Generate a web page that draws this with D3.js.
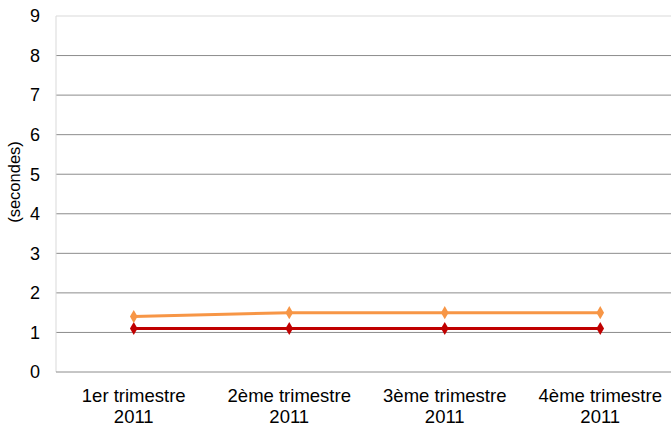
<!DOCTYPE html>
<html>
<head>
<meta charset="utf-8">
<script src="https://d3js.org/d3.v7.min.js"></script>
<style>
  body { margin: 0; background: #fff; }
  svg text { font-family: "Liberation Sans", Arial, sans-serif; fill: #000; }
  .line { fill: none; stroke-width: 3px; }
</style>
</head>
<body>
<script>
  // données
  var categories = ["1er trimestre|2011", "2ème trimestre|2011", "3ème trimestre|2011", "4ème trimestre|2011"];
  var orangeValues = [1.4, 1.5, 1.5, 1.5];
  var redValues = [1.1, 1.1, 1.1, 1.1];
  var yTicks = [0, 1, 2, 3, 4, 5, 6, 7, 8, 9];
  var yTitle = "(secondes)";

  var width = 671, height = 429;
  var margin = {top: 16, right: -7, bottom: 57, left: 56};

  var svg = d3.select("body").append("svg")
      .attr("width", width)
      .attr("height", height);

  var x = d3.scaleBand().domain(categories).range([margin.left, width - margin.right]);
  var y = d3.scaleLinear().domain([0, 9]).range([height - margin.bottom, margin.top]);

  // grille
  svg.append("g").selectAll("line")
     .data(yTicks.filter(function(d){ return d > 0 && d < 9; }))
     .enter().append("line")
     .attr("x1", margin.left).attr("x2", width)
     .attr("y1", function(d){ return y(d); }).attr("y2", function(d){ return y(d); })
     .attr("stroke", "#8c8c8c").attr("stroke-width", 1);

  // bord haut et gauche
  svg.append("line").attr("x1", margin.left).attr("x2", width)
     .attr("y1", y(9)).attr("y2", y(9)).attr("stroke", "#d9d9d9");
  svg.append("line").attr("x1", margin.left).attr("x2", margin.left)
     .attr("y1", y(9)).attr("y2", y(0)).attr("stroke", "#d9d9d9");

  // axe x
  svg.append("line").attr("x1", margin.left).attr("x2", width)
     .attr("y1", y(0)).attr("y2", y(0)).attr("stroke", "#8c8c8c");

  // étiquettes y
  svg.append("g").selectAll("text")
     .data(yTicks).enter().append("text")
     .attr("x", 40).attr("y", function(d){ return y(d); })
     .attr("dy", "0.35em")
     .attr("text-anchor", "end")
     .style("font-size", "18px")
     .text(function(d){ return d; });

  // étiquettes x
  var xl = svg.append("g").selectAll("text")
     .data(categories).enter().append("text")
     .attr("text-anchor", "middle")
     .style("font-size", "18.5px");
  xl.append("tspan")
    .attr("x", function(d){ return x(d) + x.bandwidth() / 2; })
    .attr("y", 402)
    .text(function(d){ return d.split("|")[0]; });
  xl.append("tspan")
    .attr("x", function(d){ return x(d) + x.bandwidth() / 2; })
    .attr("y", 423)
    .text(function(d){ return d.split("|")[1]; });

  // titre y
  svg.append("text")
     .attr("transform", "translate(20," + 182 + ") rotate(-90)")
     .attr("text-anchor", "middle")
     .style("font-size", "16.5px")
     .text(yTitle);

  var series = [
    {values: redValues, color: "#c00000"},
    {values: orangeValues, color: "#f79646"}
  ];

  var line = d3.line()
      .x(function(d, i){ return x(categories[i]) + x.bandwidth() / 2; })
      .y(function(d){ return y(d); });

  var diamond = d3.symbol().type(d3.symbolDiamond).size(50);

  series.forEach(function(s) {
    svg.append("path")
       .datum(s.values)
       .attr("class", "line")
       .attr("stroke", s.color)
       .attr("d", line);
    svg.append("g").selectAll("path")
       .data(s.values).enter().append("path")
       .attr("d", diamond)
       .attr("fill", s.color)
       .attr("transform", function(d, i){
         return "translate(" + (x(categories[i]) + x.bandwidth() / 2) + "," + y(d) + ")";
       });
  });
</script>
</body>
</html>
